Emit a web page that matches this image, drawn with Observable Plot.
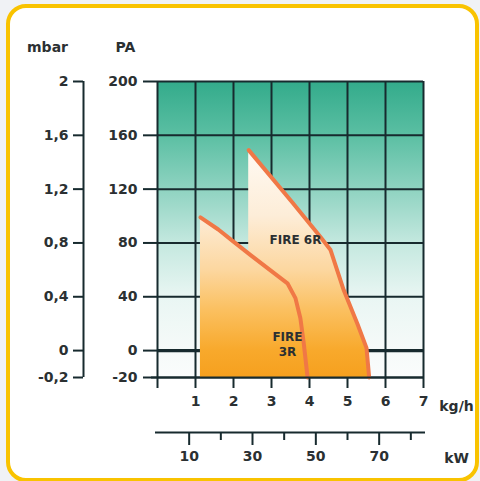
<!DOCTYPE html>
<html>
<head>
<meta charset="utf-8">
<script src="https://cdn.jsdelivr.net/npm/d3@7"></script>
<script src="https://cdn.jsdelivr.net/npm/@observablehq/plot@0.6"></script>
<style>
  html, body { margin: 0; padding: 0; background: #f0f2f5; width: 480px; height: 481px; overflow: hidden; }
  #card { position: absolute; left: 6px; top: 4px; width: 465px; height: 470px; border: 4px solid #f9c300; border-radius: 20px; background: #ffffff; }
  #chart { position: absolute; left: 0; top: 0; }
</style>
</head>
<body>
<div id="card"></div>
<div id="chart"></div>
<script>
// ---- data ----
const paTicks = [200, 160, 120, 80, 40, 0, -20];
const mbarTicks = [2, 1.6, 1.2, 0.8, 0.4, 0, -0.2];
const kghTicks = [0, 1, 2, 3, 4, 5, 6, 7];
const kwMajor = [10, 30, 50, 70];
const kwMinor = [20, 40, 60, 80];
const kwPerKgh = 12;

// FIRE 3R working field boundary (kg/h, Pa)
const fire3R_kgh = [1.13, 1.6, 2.0, 2.45, 3.05, 3.42, 3.63, 3.76, 3.85, 3.95];
const fire3R_pa  = [99,   90,  81,  71,   58,   50,   39,   24,   5,    -20];
// FIRE 6R working field boundary (kg/h, Pa)
const fire6R_kgh = [2.4, 3.55, 4.3, 4.55, 4.9, 5.26, 5.5, 5.57];
const fire6R_pa  = [149, 110,  84,  75,   45,  20,   2,   -20];

const flameLabelText = ["FIRE 6R", "FIRE\n3R"];
const flameLabelKgh  = [3.63, 3.42];
const flameLabelPa   = [83, 5];

// ---- build ----
const fire3R = fire3R_kgh.map((x, i) => ({x, pa: fire3R_pa[i]}));
const fire6R = fire6R_kgh.map((x, i) => ({x, pa: fire6R_pa[i]}));
const flameLabels = flameLabelText.map((t, i) => ({t, x: flameLabelKgh[i], pa: flameLabelPa[i]}));
const mbarAsPa = mbarTicks.map(m => Math.round(m * 100));
const mbarLabel = new Map(mbarAsPa.map((p, i) => [p, String(mbarTicks[i]).replace(".", ",")]));

const gridColor = "#172a2e";
const flameStroke = "#f07846";
const textColor = "#2b3032";

const bgStops = [[200, "#33ab8b"], [160, "#5bbfa3"], [120, "#8fd3c1"], [80, "#c4e8df"], [40, "#e9f6f3"], [0, "#f6faf9"], [-20, "#fafcfc"]];
const flameStops = [[150, "#fffaf3"], [100, "#fdedd8"], [60, "#fcd7a0"], [30, "#fbc060"], [0, "#f8a92c"], [-20, "#f6a01e"]];

function defs(index, scales) {
  const y = scales.y;
  const g = d3.create("svg:g");
  const d = g.append("defs");
  const mk = (id, stops) => {
    const lg = d.append("linearGradient").attr("id", id)
      .attr("gradientUnits", "userSpaceOnUse")
      .attr("x1", 0).attr("x2", 0).attr("y1", y(200)).attr("y2", y(-20));
    for (const [v, c] of stops) lg.append("stop").attr("offset", (200 - v) / 220).attr("stop-color", c);
  };
  mk("bgGrad", bgStops);
  mk("flameGrad", flameStops);
  return g.node();
}

const plot = Plot.plot({
  width: 480,
  height: 481,
  marginLeft: 157,
  marginRight: 57,
  marginTop: 81,
  marginBottom: 104,
  x: {domain: [0, 7]},
  y: {domain: [-20, 200]},
  style: {fontFamily: "DejaVu Sans, sans-serif", fontSize: "14px", fontWeight: "bold", color: textColor, background: "transparent", overflow: "visible"},
  marks: [
    defs,
    Plot.frame({fill: "url(#bgGrad)", stroke: "none"}),
    Plot.gridX(kghTicks, {stroke: gridColor, strokeOpacity: 1, strokeWidth: 2}),
    Plot.gridY(paTicks, {stroke: gridColor, strokeOpacity: 1, strokeWidth: 2}),
    Plot.ruleY([0], {stroke: gridColor, strokeWidth: 3.2}),
    Plot.areaY(fire6R, {x: "x", y1: -20, y2: "pa", fill: "url(#flameGrad)"}),
    Plot.line(fire6R, {x: "x", y: "pa", stroke: flameStroke, strokeWidth: 4}),
    Plot.areaY(fire3R, {x: "x", y1: -20, y2: "pa", fill: "url(#flameGrad)"}),
    Plot.line(fire3R, {x: "x", y: "pa", stroke: flameStroke, strokeWidth: 4}),
    Plot.text(flameLabels, {x: "x", y: "pa", text: "t", fontSize: 12, fill: textColor, lineHeight: 1.2}),
    // bottom kg/h axis line
    Plot.ruleY([-20], {stroke: gridColor, strokeWidth: 2, insetLeft: -6}),
    // PA axis
    Plot.axisY(paTicks, {anchor: "left", tickSize: 14, tickPadding: 6, stroke: gridColor, strokeWidth: 2, tickFormat: d => String(d), label: null}),
    Plot.text(["PA"], {frameAnchor: "top-left", dx: -32, dy: -34, textAnchor: "middle", lineAnchor: "middle", fontSize: 14}),
    // mbar axis
    Plot.ruleX([0], {dx: -74, stroke: gridColor, strokeWidth: 2}),
    Plot.axisY(mbarAsPa, {anchor: "left", dx: -74, tickSize: 10, tickPadding: 5, stroke: gridColor, strokeWidth: 2, tickFormat: p => mbarLabel.get(p), label: null}),
    Plot.text(["mbar"], {frameAnchor: "top-left", dx: -110, dy: -34, textAnchor: "middle", lineAnchor: "middle", fontSize: 14}),
    // kg/h axis
    Plot.axisX(kghTicks, {anchor: "bottom", tickSize: 11, tickPadding: 8, stroke: gridColor, strokeWidth: 2, tickFormat: d => d === 0 ? "" : String(d), label: null}),
    Plot.text(["kg/h"], {frameAnchor: "bottom-right", dx: 33, dy: 29, textAnchor: "middle", lineAnchor: "middle", fontSize: 14}),
    // kW axis
    Plot.ruleY([-20], {dy: 55, stroke: gridColor, strokeWidth: 2, insetLeft: -2, insetRight: -2}),
    Plot.axisX(kwMajor.map(k => k / kwPerKgh), {anchor: "bottom", dy: 55, tickSize: 13, tickPadding: 6, stroke: gridColor, strokeWidth: 2, tickFormat: d => String(Math.round(d * kwPerKgh)), label: null}),
    Plot.axisX(kwMinor.map(k => k / kwPerKgh), {anchor: "bottom", dy: 55, tickSize: 8, stroke: gridColor, strokeWidth: 2, tickFormat: () => "", label: null}),
    Plot.text(["kW"], {frameAnchor: "bottom-right", dx: 33, dy: 81, textAnchor: "middle", lineAnchor: "middle", fontSize: 14})
  ]
});
document.getElementById("chart").appendChild(plot);
</script>
</body>
</html>
